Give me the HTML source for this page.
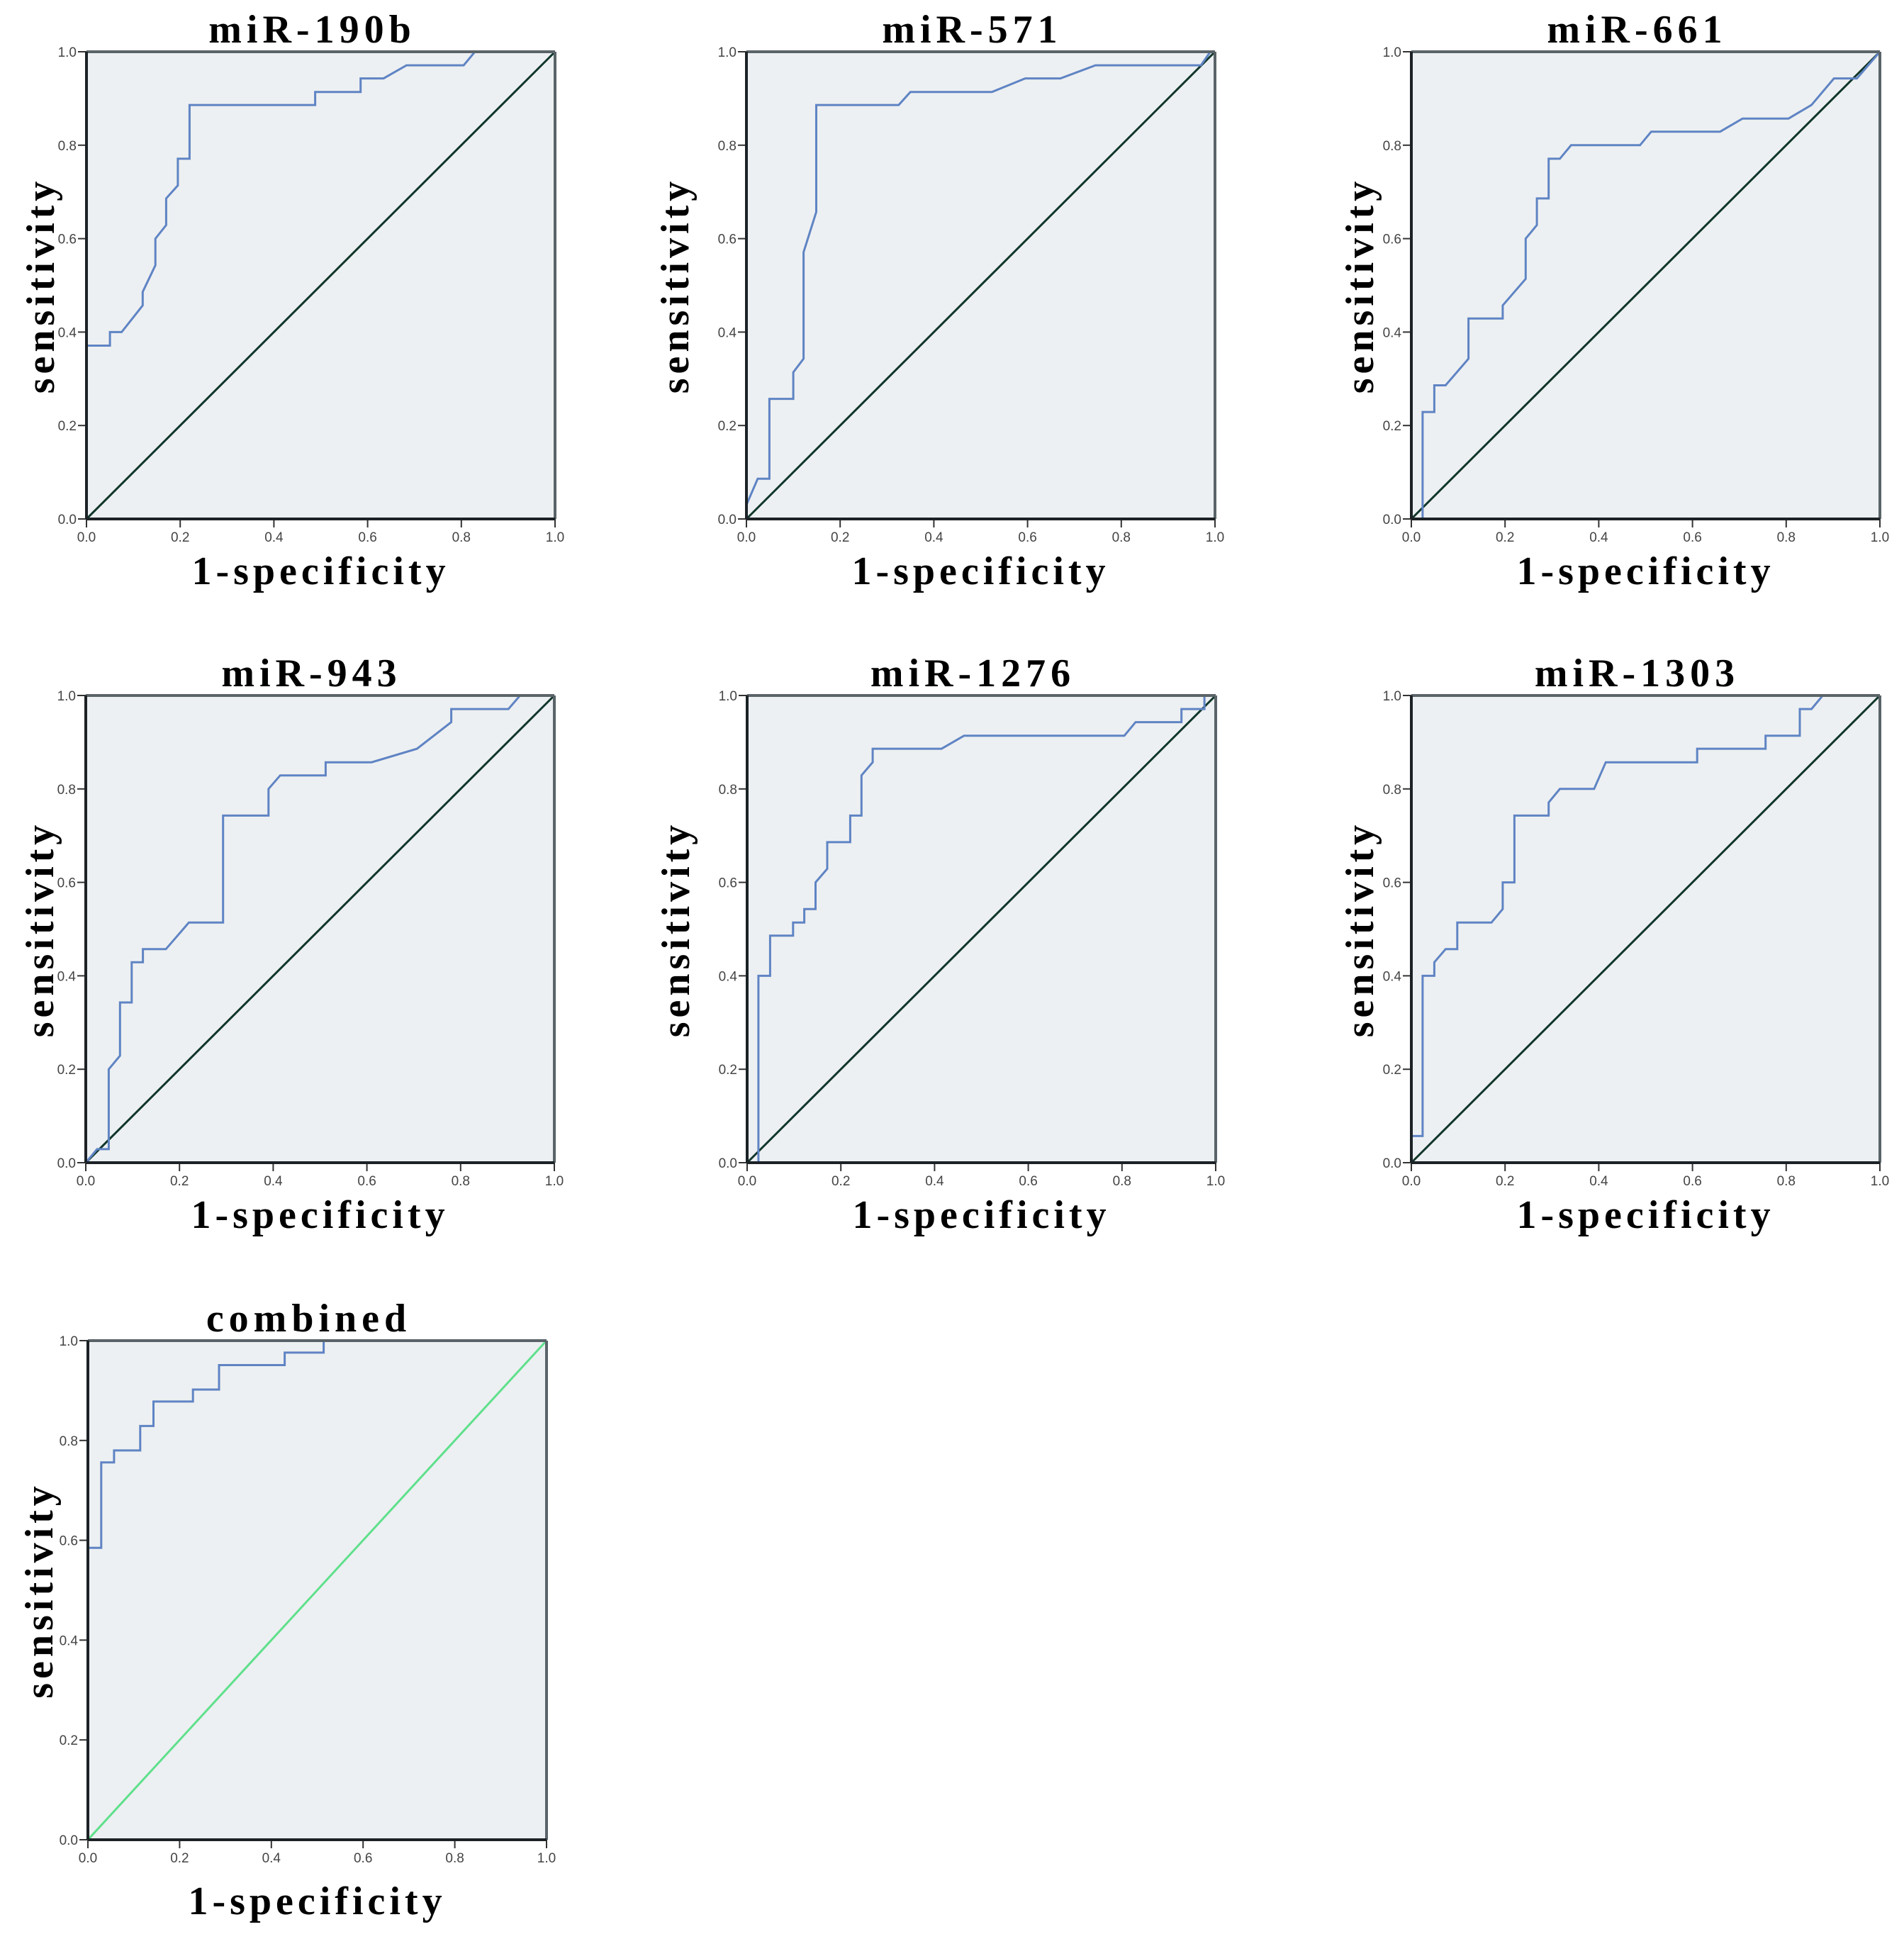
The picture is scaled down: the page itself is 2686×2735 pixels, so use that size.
<!DOCTYPE html>
<html><head><meta charset="utf-8">
<style>
html,body{margin:0;padding:0;background:#fff;}
svg{display:block;}
.tick{font-family:"Liberation Sans",sans-serif;font-size:19px;fill:#444;}
.ttl{font-family:"Liberation Serif",serif;font-weight:bold;font-size:56px;letter-spacing:7px;fill:#000;}
.lab{font-family:"Liberation Serif",serif;font-weight:bold;font-size:56px;letter-spacing:6px;fill:#000;}
</style></head>
<body>
<svg id="fig" width="2686" height="2735" viewBox="0 0 2686 2735" xmlns="http://www.w3.org/2000/svg"></svg>
<script>
const tickLabels = ["0.0","0.2","0.4","0.6","0.8","1.0"];
const tickValues = [0,0.2,0.4,0.6,0.8,1.0];
const panelTitles = ["miR-190b","miR-571","miR-661","miR-943","miR-1276","miR-1303","combined"];
const fpr190b = [0,0,0.05,0.05,0.075,0.12,0.12,0.147,0.147,0.17,0.17,0.195,0.195,0.22,0.22,0.488,0.488,0.585,0.585,0.634,0.683,0.805,0.829,1];
const tpr190b = [0,0.371,0.371,0.4,0.4,0.457,0.486,0.543,0.6,0.629,0.686,0.714,0.771,0.771,0.886,0.886,0.914,0.914,0.943,0.943,0.971,0.971,1,1];
const fpr571 = [0,0,0.024,0.049,0.049,0.1,0.1,0.122,0.122,0.149,0.149,0.325,0.35,0.524,0.595,0.67,0.745,0.97,0.99,1];
const tpr571 = [0,0.03,0.086,0.086,0.257,0.257,0.314,0.343,0.571,0.657,0.886,0.886,0.914,0.914,0.943,0.943,0.971,0.971,1,1];
const fpr661 = [0,0.024,0.024,0.049,0.049,0.073,0.122,0.122,0.195,0.195,0.244,0.244,0.268,0.268,0.293,0.293,0.317,0.341,0.488,0.512,0.659,0.707,0.805,0.854,0.902,0.951,1];
const tpr661 = [0,0,0.229,0.229,0.286,0.286,0.343,0.429,0.429,0.457,0.514,0.6,0.629,0.686,0.686,0.771,0.771,0.8,0.8,0.829,0.829,0.857,0.857,0.886,0.943,0.943,1];
const fpr943 = [0,0.024,0.049,0.049,0.073,0.073,0.098,0.098,0.122,0.122,0.171,0.22,0.293,0.293,0.39,0.39,0.415,0.512,0.512,0.61,0.707,0.78,0.78,0.902,0.927,1];
const tpr943 = [0,0.029,0.029,0.2,0.229,0.343,0.343,0.429,0.429,0.457,0.457,0.514,0.514,0.743,0.743,0.8,0.829,0.829,0.857,0.857,0.886,0.943,0.971,0.971,1,1];
const fpr1276 = [0,0.024,0.024,0.049,0.049,0.098,0.098,0.122,0.122,0.146,0.146,0.171,0.171,0.22,0.22,0.244,0.244,0.268,0.268,0.415,0.463,0.805,0.829,0.927,0.927,0.976,0.976,1];
const tpr1276 = [0,0,0.4,0.4,0.486,0.486,0.514,0.514,0.543,0.543,0.6,0.629,0.686,0.686,0.743,0.743,0.829,0.857,0.886,0.886,0.914,0.914,0.943,0.943,0.971,0.971,1,1];
const fpr1303 = [0,0,0.024,0.024,0.049,0.049,0.073,0.098,0.098,0.171,0.195,0.195,0.22,0.22,0.293,0.293,0.317,0.39,0.415,0.61,0.61,0.756,0.756,0.829,0.829,0.854,0.878,1];
const tpr1303 = [0,0.057,0.057,0.4,0.4,0.429,0.457,0.457,0.514,0.514,0.543,0.6,0.6,0.743,0.743,0.771,0.8,0.8,0.857,0.857,0.886,0.886,0.914,0.914,0.971,0.971,1,1];
const fprComb = [0,0,0.029,0.029,0.057,0.057,0.114,0.114,0.143,0.143,0.229,0.229,0.286,0.286,0.429,0.429,0.514,0.514,1];
const tprComb = [0,0.585,0.585,0.756,0.756,0.78,0.78,0.829,0.829,0.878,0.878,0.902,0.902,0.951,0.951,0.976,0.976,1,1];

const NS = "http://www.w3.org/2000/svg";
const svg = document.getElementById("fig");
function mk(tag, attrs, parent){
  const e = document.createElementNS(NS, tag);
  for (const k in attrs) e.setAttribute(k, attrs[k]);
  (parent||svg).appendChild(e);
  return e;
}
const layouts = [
  {x:122,y:73,w:661,h:659,yl:64,slug:"mir-190b"},
  {x:1053,y:73,w:661,h:659,yl:100,slug:"mir-571"},
  {x:1991,y:73,w:661,h:659,yl:72,slug:"mir-661"},
  {x:121,y:981,w:661,h:659,yl:64,slug:"mir-943"},
  {x:1054,y:981,w:661,h:659,yl:100,slug:"mir-1276"},
  {x:1991,y:981,w:661,h:659,yl:72,slug:"mir-1303"},
  {x:124,y:1891,w:647,h:704,yl:68,slug:"combined"}
];
const fprs = [fpr190b,fpr571,fpr661,fpr943,fpr1276,fpr1303,fprComb];
const tprs = [tpr190b,tpr571,tpr661,tpr943,tpr1276,tpr1303,tprComb];

layouts.forEach((L,i)=>{
  const g = mk("g",{});
  
  
  const sx = v => L.x + v*L.w;
  const sy = v => L.y + L.h - v*L.h;
  const bg = mk("rect",{x:L.x,y:L.y,width:L.w,height:L.h,fill:"#edf0f2"},g);
  
  
  tickValues.forEach((t,k)=>{
    const yt = mk("line",{x1:L.x-12,x2:L.x,y1:sy(t),y2:sy(t),stroke:"#333","stroke-width":2},g);
    
    
    const ytl = mk("text",{x:L.x-14,y:sy(t)+7,"text-anchor":"end",class:"tick"},g);
    ytl.textContent = tickLabels[k];
    
    
    const xt = mk("line",{x1:sx(t),x2:sx(t),y1:L.y+L.h,y2:L.y+L.h+12,stroke:"#333","stroke-width":2},g);
    
    
    const xtl = mk("text",{x:sx(t),y:L.y+L.h+32,"text-anchor":"middle",class:"tick"},g);
    xtl.textContent = tickLabels[k];
    
    
  });
  const diag = mk("line",{x1:sx(0),y1:sy(0),x2:sx(1),y2:sy(1),stroke:i===6?"#5fe08c":"#10362a","stroke-width":3},g);
  
  
  const pts = fprs[i].map((f,k)=> sx(f).toFixed(1)+","+sy(tprs[i][k]).toFixed(1)).join(" ");
  const roc = mk("polyline",{points:pts,fill:"none",stroke:"#5f84c4","stroke-width":3},g);
  
  
  mk("line",{x1:L.x,y1:L.y,x2:L.x+L.w,y2:L.y,stroke:"#5a6468","stroke-width":4},g);
  mk("line",{x1:L.x+L.w,y1:L.y,x2:L.x+L.w,y2:L.y+L.h,stroke:"#5a6468","stroke-width":4},g);
  const xa = mk("line",{x1:L.x,y1:L.y+L.h,x2:L.x+L.w,y2:L.y+L.h,stroke:"#1c2226","stroke-width":4},g);
  
  
  const ya = mk("line",{x1:L.x,y1:L.y,x2:L.x,y2:L.y+L.h,stroke:"#1c2226","stroke-width":4},g);
  
  
  const tt = mk("text",{x:L.x+L.w/2-12,y:L.y-13,"text-anchor":"middle",class:"ttl"},g);
  tt.textContent = panelTitles[i];
  
  
  const xl = mk("text",{x:L.x+L.w/2,y:L.y+L.h+(i===6?105:92),"text-anchor":"middle",class:"lab"},g);
  xl.textContent = "1-specificity";
  
  
  const cx = L.x - L.yl, cy = L.y + L.h/2;
  const yl = mk("text",{x:cx,y:cy,"text-anchor":"middle","dominant-baseline":"central",class:"lab",transform:"rotate(-90 "+cx+" "+cy+")"},g);
  yl.textContent = "sensitivity";
  
  
});
</script>
</body></html>
